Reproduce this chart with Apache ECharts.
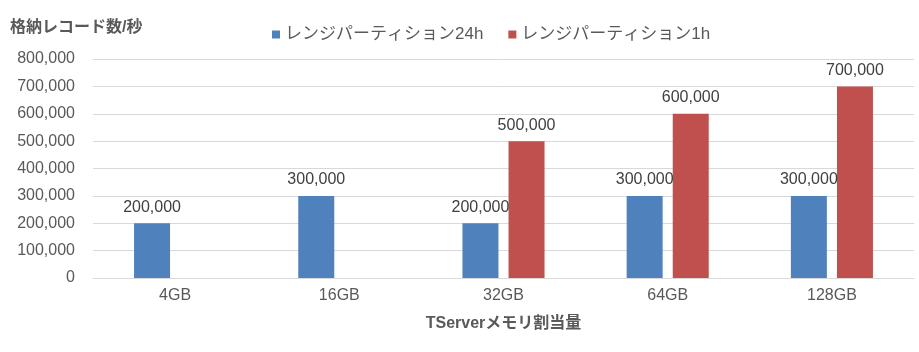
<!DOCTYPE html>
<html>
<head>
<meta charset="utf-8">
<script src="https://cdn.jsdelivr.net/npm/echarts@6/dist/echarts.min.js"></script>
<style>
  html, body { margin: 0; padding: 0; background: #fff; }
  #charts { width: 919px; height: 352px; }
</style>
</head>
<body>
<div id="charts"></div>
<script>
// データ
const categories = ['4GB', '16GB', '32GB', '64GB', '128GB']
const range24h = [200000, 300000, 200000, 300000, 300000]
const range1h = [null, null, 500000, 600000, 700000]
const seriesNames = ['レンジパーティション24h', 'レンジパーティション1h']

const fmt = (v) => Number(v).toLocaleString('en-US')
const font = 'Arial, "Liberation Sans", "Noto Sans CJK JP", sans-serif'

let myChart = echarts.init(document.getElementById('charts'))

let option = {
  textStyle: { fontFamily: font },
  title: {
    text: '格納レコード数/秒',
    left: 5,
    top: 15,
    textStyle: { fontSize: 16, fontWeight: 'bold', color: '#595959', fontFamily: font }
  },
  legend: {
    data: seriesNames,
    left: 267,
    top: 21,
    itemWidth: 8,
    itemHeight: 8,
    itemGap: 25,
    icon: 'rect',
    textStyle: { fontSize: 17, color: '#595959', fontFamily: font }
  },
  grid: {
    left: 93,
    right: 5,
    top: 59,
    bottom: 74
  },
  xAxis: {
    type: 'category',
    data: categories,
    name: 'TServerメモリ割当量',
    nameLocation: 'middle',
    nameGap: 38,
    nameTextStyle: { fontSize: 16, fontWeight: 'bold', color: '#595959', fontFamily: font },
    axisTick: { show: false },
    axisLine: { lineStyle: { color: '#d9d9d9' } },
    axisLabel: { fontSize: 16, color: '#595959', margin: 10 }
  },
  yAxis: {
    type: 'value',
    min: 0,
    max: 800000,
    interval: 100000,
    axisLabel: { fontSize: 16, color: '#595959', margin: 18, formatter: fmt },
    splitLine: { lineStyle: { color: '#d9d9d9' } }
  },
  series: [
    {
      name: seriesNames[0],
      type: 'bar',
      data: range24h,
      barWidth: 36,
      barGap: '28%',
      itemStyle: { color: '#4F81BD' },
      label: {
        show: true,
        position: 'top',
        distance: 8,
        fontSize: 16,
        color: '#404040',
        formatter: (p) => fmt(p.value)
      }
    },
    {
      name: seriesNames[1],
      type: 'bar',
      data: range1h,
      barWidth: 36,
      barGap: '28%',
      itemStyle: { color: '#C0504D' },
      label: {
        show: true,
        position: 'top',
        distance: 8,
        fontSize: 16,
        color: '#404040',
        formatter: (p) => fmt(p.value)
      }
    }
  ]
}

myChart.setOption(option)
</script>
</body>
</html>
